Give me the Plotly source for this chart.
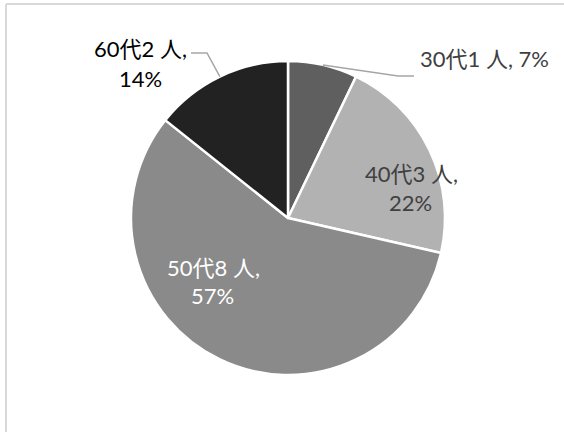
import math
import plotly.graph_objects as go

# data
categories = ["30代", "40代", "50代", "60代"]
counts = [1, 3, 8, 2]
percent_labels = ["7%", "22%", "57%", "14%"]
colors = ["#5f5f5f", "#b2b2b2", "#8a8a8a", "#222222"]

W, H = 564, 432
CX, CY, R = 288, 218, 157  # pie centre / radius in px

fig = go.Figure(go.Pie(
    labels=categories,
    values=counts,
    sort=False,
    direction="clockwise",
    rotation=0,
    textinfo="none",
    hoverinfo="label+value+percent",
    marker=dict(colors=colors, line=dict(color="white", width=2.5)),
    domain=dict(x=[(CX - R) / W, (CX + R) / W],
                y=[(H - CY - R) / H, (H - CY + R) / H]),
    showlegend=False,
))

FONT = "Lato, 'Noto Sans CJK JP', sans-serif"
FS = 22

def px(x, y):
    return x / W, 1 - y / H

# mid angles from data
total = sum(counts)
mids = []
acc = 0
for c in counts:
    mids.append((acc + c / 2) / total * 2 * math.pi)
    acc += c

def edge_pt(i):
    a = mids[i]
    return CX + R * math.sin(a), CY - R * math.cos(a)

annotations = []
def add_text(txt, x, y, color):
    ax, ay = px(x, y)
    annotations.append(dict(text=txt, x=ax, y=ay, xref="paper", yref="paper",
                            xanchor="center", yanchor="middle", showarrow=False,
                            font=dict(family=FONT, size=FS, color=color)))

# label placement (px)
label_pos = {
    0: [((484, 58), f"{categories[0]}{counts[0]} 人, {percent_labels[0]}")],
    1: [((411, 173), f"{categories[1]}{counts[1]} 人,"), ((410, 202), percent_labels[1])],
    2: [((213, 267), f"{categories[2]}{counts[2]} 人,"), ((212, 295), percent_labels[2])],
    3: [((140, 48), f"{categories[3]}{counts[3]} 人,"), ((140, 78), percent_labels[3])],
}
label_colors = ["#404040", "#404040", "#ffffff", "#000000"]
for i, items in label_pos.items():
    for (x, y), t in items:
        add_text(t, x, y, label_colors[i])

shapes = []
# leader line 30代
sx, sy = edge_pt(0)
pts = [(sx, sy), (398, 76), (414, 76)]
path = "M " + " L ".join(f"{px(x, y)[0]},{px(x, y)[1]}" for x, y in pts)
shapes.append(dict(type="path", path=path, xref="paper", yref="paper",
                   line=dict(color="#a6a6a6", width=1.5)))
# leader line 60代
sx, sy = edge_pt(3)
pts = [(191, 53), (207, 53), (sx, sy)]
path = "M " + " L ".join(f"{px(x, y)[0]},{px(x, y)[1]}" for x, y in pts)
shapes.append(dict(type="path", path=path, xref="paper", yref="paper",
                   line=dict(color="#a6a6a6", width=1.5)))
# chart frame (top and left edges only visible)
xa, ya = px(6, 4)
xb, yb = px(W, H)
shapes.append(dict(type="line", xref="paper", yref="paper", x0=xa, y0=ya, x1=xb, y1=ya,
                   line=dict(color="#d9d9d9", width=2)))
shapes.append(dict(type="line", xref="paper", yref="paper", x0=xa, y0=ya, x1=xa, y1=yb,
                   line=dict(color="#d9d9d9", width=2)))

fig.update_layout(
    width=W, height=H,
    margin=dict(l=0, r=0, t=0, b=0),
    paper_bgcolor="white", plot_bgcolor="white",
    annotations=annotations, shapes=shapes,
)

fig.write_html("out.html", config={"displayModeBar": False},
               post_script="document.body.style.margin='0';document.body.style.overflow='hidden';")
